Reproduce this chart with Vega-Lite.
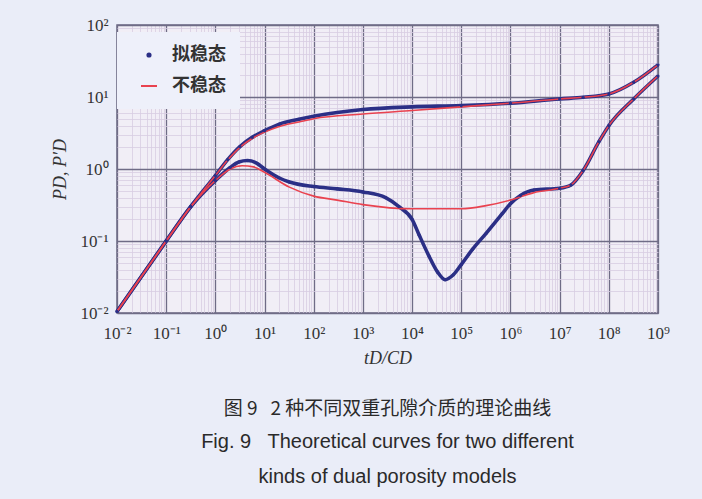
{
  "$schema": "https://vega.github.io/schema/vega-lite/v6.json",
  "width": 541,
  "height": 288,
  "autosize": {"type": "none"},
  "padding": {"left": 117, "top": 25, "right": 44, "bottom": 186},
  "background": "#eaedf8",
  "config": {
    "view": {"fill": "#f1eef6", "stroke": "#6b6882", "strokeWidth": 1.5},
    "legend": {
      "orient": "none", "legendX": 0, "legendY": 7,
      "fillColor": "#eef0fa", "padding": 14,
      "symbolOffset": 9, "labelOffset": 14, "rowPadding": 13,
      "labelFont": "Noto Sans CJK SC", "labelFontSize": 18, "labelFontWeight": "bold",
      "labelColor": "#333333", "symbolStrokeWidth": 2
    }
  },
  "title": {
    "text": "图 9\u00a0\u00a0 2 种不同双重孔隙介质的理论曲线",
    "subtitle": ["Fig. 9\u00a0\u00a0 Theoretical curves for two different", "kinds of dual porosity models"],
    "orient": "bottom",
    "anchor": "middle",
    "offset": 33,
    "font": "Noto Sans CJK SC",
    "fontSize": 19,
    "fontWeight": "normal",
    "color": "#2a2a2a",
    "subtitleFont": "Liberation Sans",
    "subtitleFontSize": 20,
    "subtitleColor": "#2a2a2a",
    "subtitleLineHeight": 35,
    "subtitlePadding": 13
  },
  "data": {
    "values": [
      {"series": "拟稳态", "kind": "P", "t": 0.01, "v": 0.0105},
      {"series": "拟稳态", "kind": "P", "t": 0.1, "v": 0.1},
      {"series": "拟稳态", "kind": "P", "t": 0.316, "v": 0.3},
      {"series": "拟稳态", "kind": "P", "t": 1, "v": 0.81},
      {"series": "拟稳态", "kind": "P", "t": 1.78, "v": 1.35},
      {"series": "拟稳态", "kind": "P", "t": 3.16, "v": 2.05},
      {"series": "拟稳态", "kind": "P", "t": 5.6, "v": 2.75},
      {"series": "拟稳态", "kind": "P", "t": 10, "v": 3.4},
      {"series": "拟稳态", "kind": "P", "t": 20, "v": 4.2},
      {"series": "拟稳态", "kind": "P", "t": 50, "v": 4.9},
      {"series": "拟稳态", "kind": "P", "t": 100, "v": 5.4},
      {"series": "拟稳态", "kind": "P", "t": 300, "v": 6.1},
      {"series": "拟稳态", "kind": "P", "t": 1000, "v": 6.7},
      {"series": "拟稳态", "kind": "P", "t": 10000, "v": 7.3},
      {"series": "拟稳态", "kind": "P", "t": 100000, "v": 7.6},
      {"series": "拟稳态", "kind": "P", "t": 1000000, "v": 8.2},
      {"series": "拟稳态", "kind": "P", "t": 10000000, "v": 9.4},
      {"series": "拟稳态", "kind": "P", "t": 30000000, "v": 9.9},
      {"series": "拟稳态", "kind": "P", "t": 100000000, "v": 11.0},
      {"series": "拟稳态", "kind": "P", "t": 320000000, "v": 16},
      {"series": "拟稳态", "kind": "P", "t": 1000000000, "v": 28},

      {"series": "拟稳态", "kind": "D", "t": 0.01, "v": 0.0105},
      {"series": "拟稳态", "kind": "D", "t": 0.1, "v": 0.1},
      {"series": "拟稳态", "kind": "D", "t": 0.316, "v": 0.3},
      {"series": "拟稳态", "kind": "D", "t": 1, "v": 0.69},
      {"series": "拟稳态", "kind": "D", "t": 2, "v": 1.05},
      {"series": "拟稳态", "kind": "D", "t": 3, "v": 1.25},
      {"series": "拟稳态", "kind": "D", "t": 4.5, "v": 1.31},
      {"series": "拟稳态", "kind": "D", "t": 7, "v": 1.2},
      {"series": "拟稳态", "kind": "D", "t": 10, "v": 1.0},
      {"series": "拟稳态", "kind": "D", "t": 20, "v": 0.75},
      {"series": "拟稳态", "kind": "D", "t": 32, "v": 0.66},
      {"series": "拟稳态", "kind": "D", "t": 100, "v": 0.57},
      {"series": "拟稳态", "kind": "D", "t": 300, "v": 0.53},
      {"series": "拟稳态", "kind": "D", "t": 1000, "v": 0.48},
      {"series": "拟稳态", "kind": "D", "t": 2900, "v": 0.40},
      {"series": "拟稳态", "kind": "D", "t": 5400, "v": 0.30},
      {"series": "拟稳态", "kind": "D", "t": 10000, "v": 0.20},
      {"series": "拟稳态", "kind": "D", "t": 14000, "v": 0.12},
      {"series": "拟稳态", "kind": "D", "t": 22000, "v": 0.062},
      {"series": "拟稳态", "kind": "D", "t": 33000, "v": 0.037},
      {"series": "拟稳态", "kind": "D", "t": 47000, "v": 0.029},
      {"series": "拟稳态", "kind": "D", "t": 69000, "v": 0.034},
      {"series": "拟稳态", "kind": "D", "t": 100000, "v": 0.047},
      {"series": "拟稳态", "kind": "D", "t": 170000, "v": 0.077},
      {"series": "拟稳态", "kind": "D", "t": 320000, "v": 0.128},
      {"series": "拟稳态", "kind": "D", "t": 680000, "v": 0.24},
      {"series": "拟稳态", "kind": "D", "t": 1000000, "v": 0.33},
      {"series": "拟稳态", "kind": "D", "t": 1600000, "v": 0.43},
      {"series": "拟稳态", "kind": "D", "t": 3000000, "v": 0.51},
      {"series": "拟稳态", "kind": "D", "t": 10000000, "v": 0.54},
      {"series": "拟稳态", "kind": "D", "t": 17000000, "v": 0.6},
      {"series": "拟稳态", "kind": "D", "t": 30000000, "v": 0.95},
      {"series": "拟稳态", "kind": "D", "t": 63000000, "v": 2.4},
      {"series": "拟稳态", "kind": "D", "t": 100000000, "v": 4.0},
      {"series": "拟稳态", "kind": "D", "t": 320000000, "v": 9.4},
      {"series": "拟稳态", "kind": "D", "t": 1000000000, "v": 19.6},

      {"series": "不稳态", "kind": "P", "t": 0.01, "v": 0.0105},
      {"series": "不稳态", "kind": "P", "t": 0.1, "v": 0.1},
      {"series": "不稳态", "kind": "P", "t": 0.316, "v": 0.3},
      {"series": "不稳态", "kind": "P", "t": 1, "v": 0.81},
      {"series": "不稳态", "kind": "P", "t": 1.78, "v": 1.33},
      {"series": "不稳态", "kind": "P", "t": 3.16, "v": 2.0},
      {"series": "不稳态", "kind": "P", "t": 5.6, "v": 2.65},
      {"series": "不稳态", "kind": "P", "t": 10, "v": 3.25},
      {"series": "不稳态", "kind": "P", "t": 20, "v": 3.9},
      {"series": "不稳态", "kind": "P", "t": 50, "v": 4.5},
      {"series": "不稳态", "kind": "P", "t": 100, "v": 5.0},
      {"series": "不稳态", "kind": "P", "t": 1000, "v": 5.8},
      {"series": "不稳态", "kind": "P", "t": 10000, "v": 6.5},
      {"series": "不稳态", "kind": "P", "t": 100000, "v": 7.3},
      {"series": "不稳态", "kind": "P", "t": 1000000, "v": 8.2},
      {"series": "不稳态", "kind": "P", "t": 10000000, "v": 9.4},
      {"series": "不稳态", "kind": "P", "t": 30000000, "v": 9.9},
      {"series": "不稳态", "kind": "P", "t": 100000000, "v": 11.0},
      {"series": "不稳态", "kind": "P", "t": 320000000, "v": 16},
      {"series": "不稳态", "kind": "P", "t": 1000000000, "v": 28},

      {"series": "不稳态", "kind": "D", "t": 0.01, "v": 0.0105},
      {"series": "不稳态", "kind": "D", "t": 0.1, "v": 0.1},
      {"series": "不稳态", "kind": "D", "t": 0.316, "v": 0.3},
      {"series": "不稳态", "kind": "D", "t": 1, "v": 0.69},
      {"series": "不稳态", "kind": "D", "t": 2, "v": 1.0},
      {"series": "不稳态", "kind": "D", "t": 3.5, "v": 1.11},
      {"series": "不稳态", "kind": "D", "t": 6, "v": 1.07},
      {"series": "不稳态", "kind": "D", "t": 10, "v": 0.9},
      {"series": "不稳态", "kind": "D", "t": 32, "v": 0.56},
      {"series": "不稳态", "kind": "D", "t": 100, "v": 0.42},
      {"series": "不稳态", "kind": "D", "t": 300, "v": 0.37},
      {"series": "不稳态", "kind": "D", "t": 1000, "v": 0.32},
      {"series": "不稳态", "kind": "D", "t": 10000, "v": 0.28},
      {"series": "不稳态", "kind": "D", "t": 100000, "v": 0.28},
      {"series": "不稳态", "kind": "D", "t": 320000, "v": 0.31},
      {"series": "不稳态", "kind": "D", "t": 1000000, "v": 0.37},
      {"series": "不稳态", "kind": "D", "t": 3000000, "v": 0.47},
      {"series": "不稳态", "kind": "D", "t": 10000000, "v": 0.54},
      {"series": "不稳态", "kind": "D", "t": 17000000, "v": 0.6},
      {"series": "不稳态", "kind": "D", "t": 30000000, "v": 0.95},
      {"series": "不稳态", "kind": "D", "t": 63000000, "v": 2.4},
      {"series": "不稳态", "kind": "D", "t": 100000000, "v": 4.0},
      {"series": "不稳态", "kind": "D", "t": 320000000, "v": 9.4},
      {"series": "不稳态", "kind": "D", "t": 1000000000, "v": 19.6}
    ]
  },
  "resolve": {"axis": {"x": "independent", "y": "independent"}},
  "layer": [
    {
      "mark": {"type": "line", "strokeWidth": 3.6, "interpolate": "monotone"},
      "transform": [{"filter": "datum.series === '拟稳态'"}],
      "encoding": {
        "x": {
          "field": "t", "type": "quantitative",
          "scale": {"type": "log", "domain": [0.01, 1000000000], "nice": false},
          "axis": {
            "values": [0.02,0.03,0.04,0.05,0.06,0.07,0.08,0.09,0.2,0.3,0.4,0.5,0.6,0.7,0.8,0.9,2,3,4,5,6,7,8,9,20,30,40,50,60,70,80,90,200,300,400,500,600,700,800,900,2000,3000,4000,5000,6000,7000,8000,9000,20000,30000,40000,50000,60000,70000,80000,90000,200000,300000,400000,500000,600000,700000,800000,900000,2000000,3000000,4000000,5000000,6000000,7000000,8000000,9000000,20000000,30000000,40000000,50000000,60000000,70000000,80000000,90000000,200000000,300000000,400000000,500000000,600000000,700000000,800000000,900000000],
            "orient": "bottom", "grid": true, "gridColor": "#d8cde2", "gridWidth": 0.8,
            "labels": false, "ticks": false, "domain": false, "title": null
          }
        },
        "y": {
          "field": "v", "type": "quantitative",
          "scale": {"type": "log", "domain": [0.01, 100], "nice": false},
          "axis": {
            "values": [0.02,0.03,0.04,0.05,0.06,0.07,0.08,0.09,0.2,0.3,0.4,0.5,0.6,0.7,0.8,0.9,2,3,4,5,6,7,8,9,20,30,40,50,60,70,80,90],
            "orient": "left", "grid": true, "gridColor": "#d8cde2", "gridWidth": 0.8,
            "labels": false, "ticks": false, "domain": false, "title": null
          }
        },
        "detail": {"field": "kind"},
        "color": {
          "field": "series", "type": "nominal",
          "scale": {"domain": ["拟稳态", "不稳态"], "range": ["#2b2f86", "#e9424f"]}
        }
      }
    },
    {
      "mark": {"type": "line", "strokeWidth": 1.6, "interpolate": "monotone"},
      "transform": [{"filter": "datum.series === '不稳态'"}],
      "encoding": {
        "x": {
          "field": "t", "type": "quantitative",
          "scale": {"type": "log", "domain": [0.01, 1000000000], "nice": false},
          "axis": {
            "values": [0.01,0.1,1,10,100,1000,10000,100000,1000000,10000000,100000000,1000000000],
            "orient": "bottom", "grid": true, "gridColor": "#6f6c86", "gridWidth": 1.3,
            "ticks": false, "domain": false,
            "labelExpr": "'10' + ['⁻²','⁻¹','⁰','¹','²','³','⁴','⁵','⁶','⁷','⁸','⁹'][round(log(datum.value)/LN10)+2]",
            "labelFont": "Liberation Serif", "labelFontSize": 17, "labelColor": "#333333",
            "labelPadding": 12, "labelOverlap": false, "labelFlush": false,
            "title": "tD/CD", "titleFont": "Liberation Serif", "titleFontStyle": "italic",
            "titleFontWeight": "normal", "titleFontSize": 18, "titleColor": "#333333", "titlePadding": 8
          }
        },
        "y": {
          "field": "v", "type": "quantitative",
          "scale": {"type": "log", "domain": [0.01, 100], "nice": false},
          "axis": {
            "values": [0.01,0.1,1,10,100],
            "orient": "left", "grid": true, "gridColor": "#6f6c86", "gridWidth": 1.3,
            "ticks": false, "domain": false,
            "labelExpr": "'10' + ['⁻²','⁻¹','⁰','¹','²'][round(log(datum.value)/LN10)+2]",
            "labelFont": "Liberation Serif", "labelFontSize": 17, "labelColor": "#333333",
            "labelPadding": 9, "labelOverlap": false, "labelFlush": false,
            "title": "PD, P′D", "titleFont": "Liberation Serif", "titleFontStyle": "italic",
            "titleFontWeight": "normal", "titleFontSize": 18, "titleColor": "#333333", "titlePadding": 10
          }
        },
        "detail": {"field": "kind"},
        "color": {
          "field": "series", "type": "nominal",
          "scale": {"domain": ["拟稳态", "不稳态"], "range": ["#2b2f86", "#e9424f"]}
        }
      }
    },
    {
      "mark": {"type": "point", "filled": true, "opacity": 1},
      "transform": [{"filter": "datum.series === '拟稳态'"}],
      "encoding": {
        "x": {"field": "t", "type": "quantitative", "axis": null},
        "y": {"field": "v", "type": "quantitative", "axis": null},
        "color": {
          "field": "series", "type": "nominal",
          "scale": {"domain": ["拟稳态", "不稳态"], "range": ["#2b2f86", "#e9424f"]},
          "legend": {"title": null, "labelExpr": "datum.label + '\u2003\u2002'"}
        },
        "shape": {
          "field": "series", "type": "nominal",
          "scale": {"domain": ["拟稳态", "不稳态"], "range": ["circle", "stroke"]},
          "legend": {"title": null, "labelExpr": "datum.label + '\u2003\u2002'"}
        },
        "size": {
          "field": "series", "type": "nominal",
          "scale": {"domain": ["拟稳态", "不稳态"], "range": [10, 256]},
          "legend": {"title": null, "labelExpr": "datum.label + '\u2003\u2002'"}
        }
      }
    }
  ]
}
